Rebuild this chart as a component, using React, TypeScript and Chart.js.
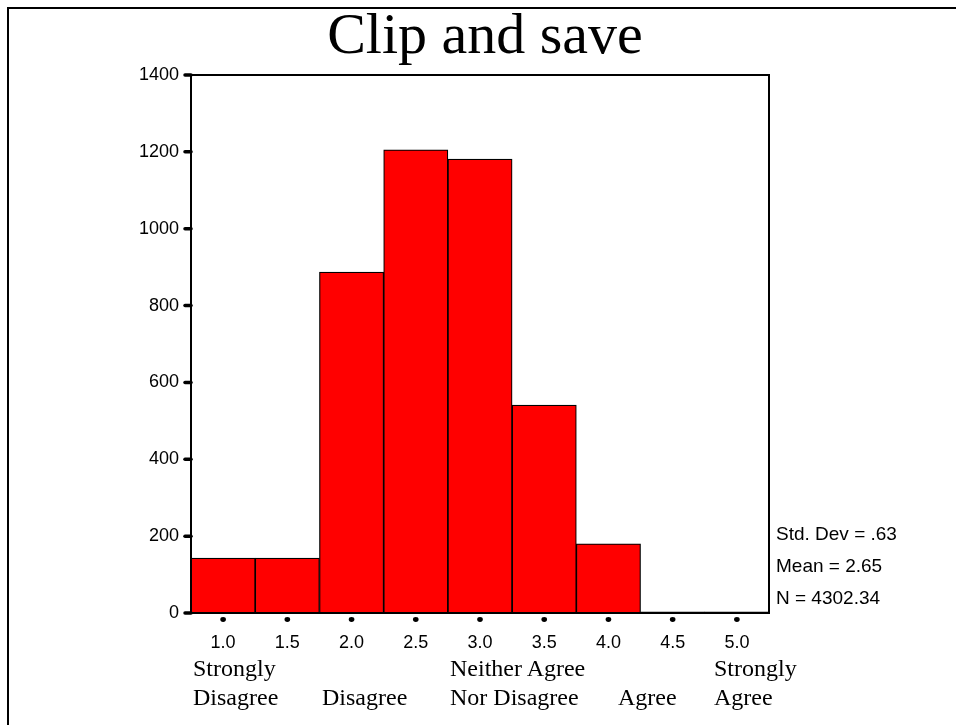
import React, { useEffect, useRef } from "react";
import { Chart, registerables } from "chart.js";

Chart.register(...registerables);

const binLabels = ["1.0", "1.5", "2.0", "2.5", "3.0", "3.5", "4.0", "4.5", "5.0"];
const counts = [143, 143, 887, 1205, 1181, 541, 180, 3, 3];
const yTickMax = 1400;
const yTickStep = 200;
const titleText = "Clip and save";
const statsLines = ["Std. Dev = .63", "Mean = 2.65", "N = 4302.34"];
const scaleLabels = [
  { lines: ["Strongly", "Disagree"], left: 193 },
  { lines: ["", "Disagree"], left: 322 },
  { lines: ["Neither Agree", "Nor Disagree"], left: 450 },
  { lines: ["", "Agree"], left: 618 },
  { lines: ["Strongly", "Agree"], left: 714 },
];

const SANS = "'Liberation Sans', Arial, sans-serif";
const SERIF = "'Liberation Serif', 'Times New Roman', serif";

const frameAndTicks = {
  id: "frameAndTicks",
  afterDatasetsDraw(chart: any) {
    const { ctx, chartArea, scales } = chart;
    ctx.save();
    ctx.strokeStyle = "#000";
    ctx.lineWidth = 2;
    ctx.strokeRect(chartArea.left, chartArea.top, chartArea.right - chartArea.left, chartArea.bottom - chartArea.top);
    const ys = scales.y;
    ctx.lineWidth = 3.5;
    ctx.lineCap = "round";
    ys.ticks.forEach((_t: any, i: number) => {
      const py = ys.getPixelForTick(i);
      ctx.beginPath();
      ctx.moveTo(chartArea.left - 6, py);
      ctx.lineTo(chartArea.left, py);
      ctx.stroke();
    });
    const xs = scales.x;
    ctx.fillStyle = "#000";
    xs.ticks.forEach((_t: any, i: number) => {
      const px = xs.getPixelForTick(i);
      ctx.beginPath();
      ctx.ellipse(px, chartArea.bottom + 6.5, 2.8, 2.4, 0, 0, Math.PI * 2);
      ctx.fill();
    });
    ctx.restore();
  },
};

function ChartCanvas() {
  const ref = useRef<HTMLCanvasElement | null>(null);
  useEffect(() => {
    if (!ref.current) return;
    const chart = new Chart(ref.current, {
      type: "bar",
      data: {
        labels: binLabels,
        datasets: [
          {
            data: counts,
            backgroundColor: "#ff0000",
            borderColor: "#000000",
            borderWidth: 1.2,
            barPercentage: 1,
            categoryPercentage: 1,
          },
        ],
      },
      options: {
        animation: false,
        responsive: false,
        devicePixelRatio: 1,
        layout: { padding: { top: 75, right: 187, left: 0, bottom: 0 } },
        plugins: { legend: { display: false }, tooltip: { enabled: false }, title: { display: false } },
        scales: {
          x: {
            type: "category",
            offset: true,
            grid: { display: false, drawTicks: false, offset: false },
            border: { display: false },
            ticks: { color: "#000", font: { family: SANS, size: 18 }, padding: 19, maxRotation: 0, autoSkip: false },
            afterFit: (s: any) => {
              s.height = 112;
            },
          },
          y: {
            min: 0,
            max: yTickMax,
            grid: { display: false, drawTicks: false },
            border: { display: false },
            ticks: {
              stepSize: yTickStep,
              color: "#000",
              font: { family: SANS, size: 18 },
              padding: 12,
              callback: (v: any) => String(v),
            },
            afterFit: (s: any) => {
              s.width = 191;
            },
          },
        },
      },
      plugins: [frameAndTicks],
    });
    return () => chart.destroy();
  }, []);
  return <canvas ref={ref} width={956} height={725} style={{ position: "fixed", left: 0, top: 0, width: 956, height: 725 }} />;
}

export default function App() {
  const serifSize = 24;
  const serifLH = 28.5;
  const serifBase = (serifLH - (0.891 + 0.216) * serifSize) / 2 + 0.891 * serifSize;
  const statSize = 19;
  const statLH = 32;
  const statBase = (statLH - (0.905 + 0.212) * statSize) / 2 + 0.905 * statSize;
  const titleSize = 58;
  const titleLH = 66;
  const titleBase = (titleLH - (0.891 + 0.216) * titleSize) / 2 + 0.891 * titleSize;
  return (
    <div>
      <div
        style={{
          position: "fixed",
          left: 7,
          top: 7,
          width: 2000,
          height: 2000,
          border: "2px solid #000",
          boxSizing: "border-box",
        }}
      />
      <ChartCanvas />
      <div
        style={{
          position: "fixed",
          left: 485,
          top: 54 - titleBase,
          transform: "translateX(-50%)",
          fontFamily: SERIF,
          fontSize: titleSize,
          lineHeight: titleLH + "px",
          whiteSpace: "nowrap",
          color: "#000",
        }}
      >
        {titleText}
      </div>
      <div
        style={{
          position: "fixed",
          left: 776,
          top: 540.5 - statBase,
          fontFamily: SANS,
          fontSize: statSize,
          lineHeight: statLH + "px",
          whiteSpace: "nowrap",
          color: "#000",
        }}
      >
        {statsLines.map((s, i) => (
          <div key={i}>{s}</div>
        ))}
      </div>
      {scaleLabels.map((g, i) => (
        <div
          key={i}
          style={{
            position: "fixed",
            left: g.left,
            top: 676.5 - serifBase,
            fontFamily: SERIF,
            fontSize: serifSize,
            lineHeight: serifLH + "px",
            whiteSpace: "nowrap",
            color: "#000",
          }}
        >
          {g.lines.map((l, j) => (
            <div key={j}>{l === "" ? "\u00a0" : l}</div>
          ))}
        </div>
      ))}
    </div>
  );
}
